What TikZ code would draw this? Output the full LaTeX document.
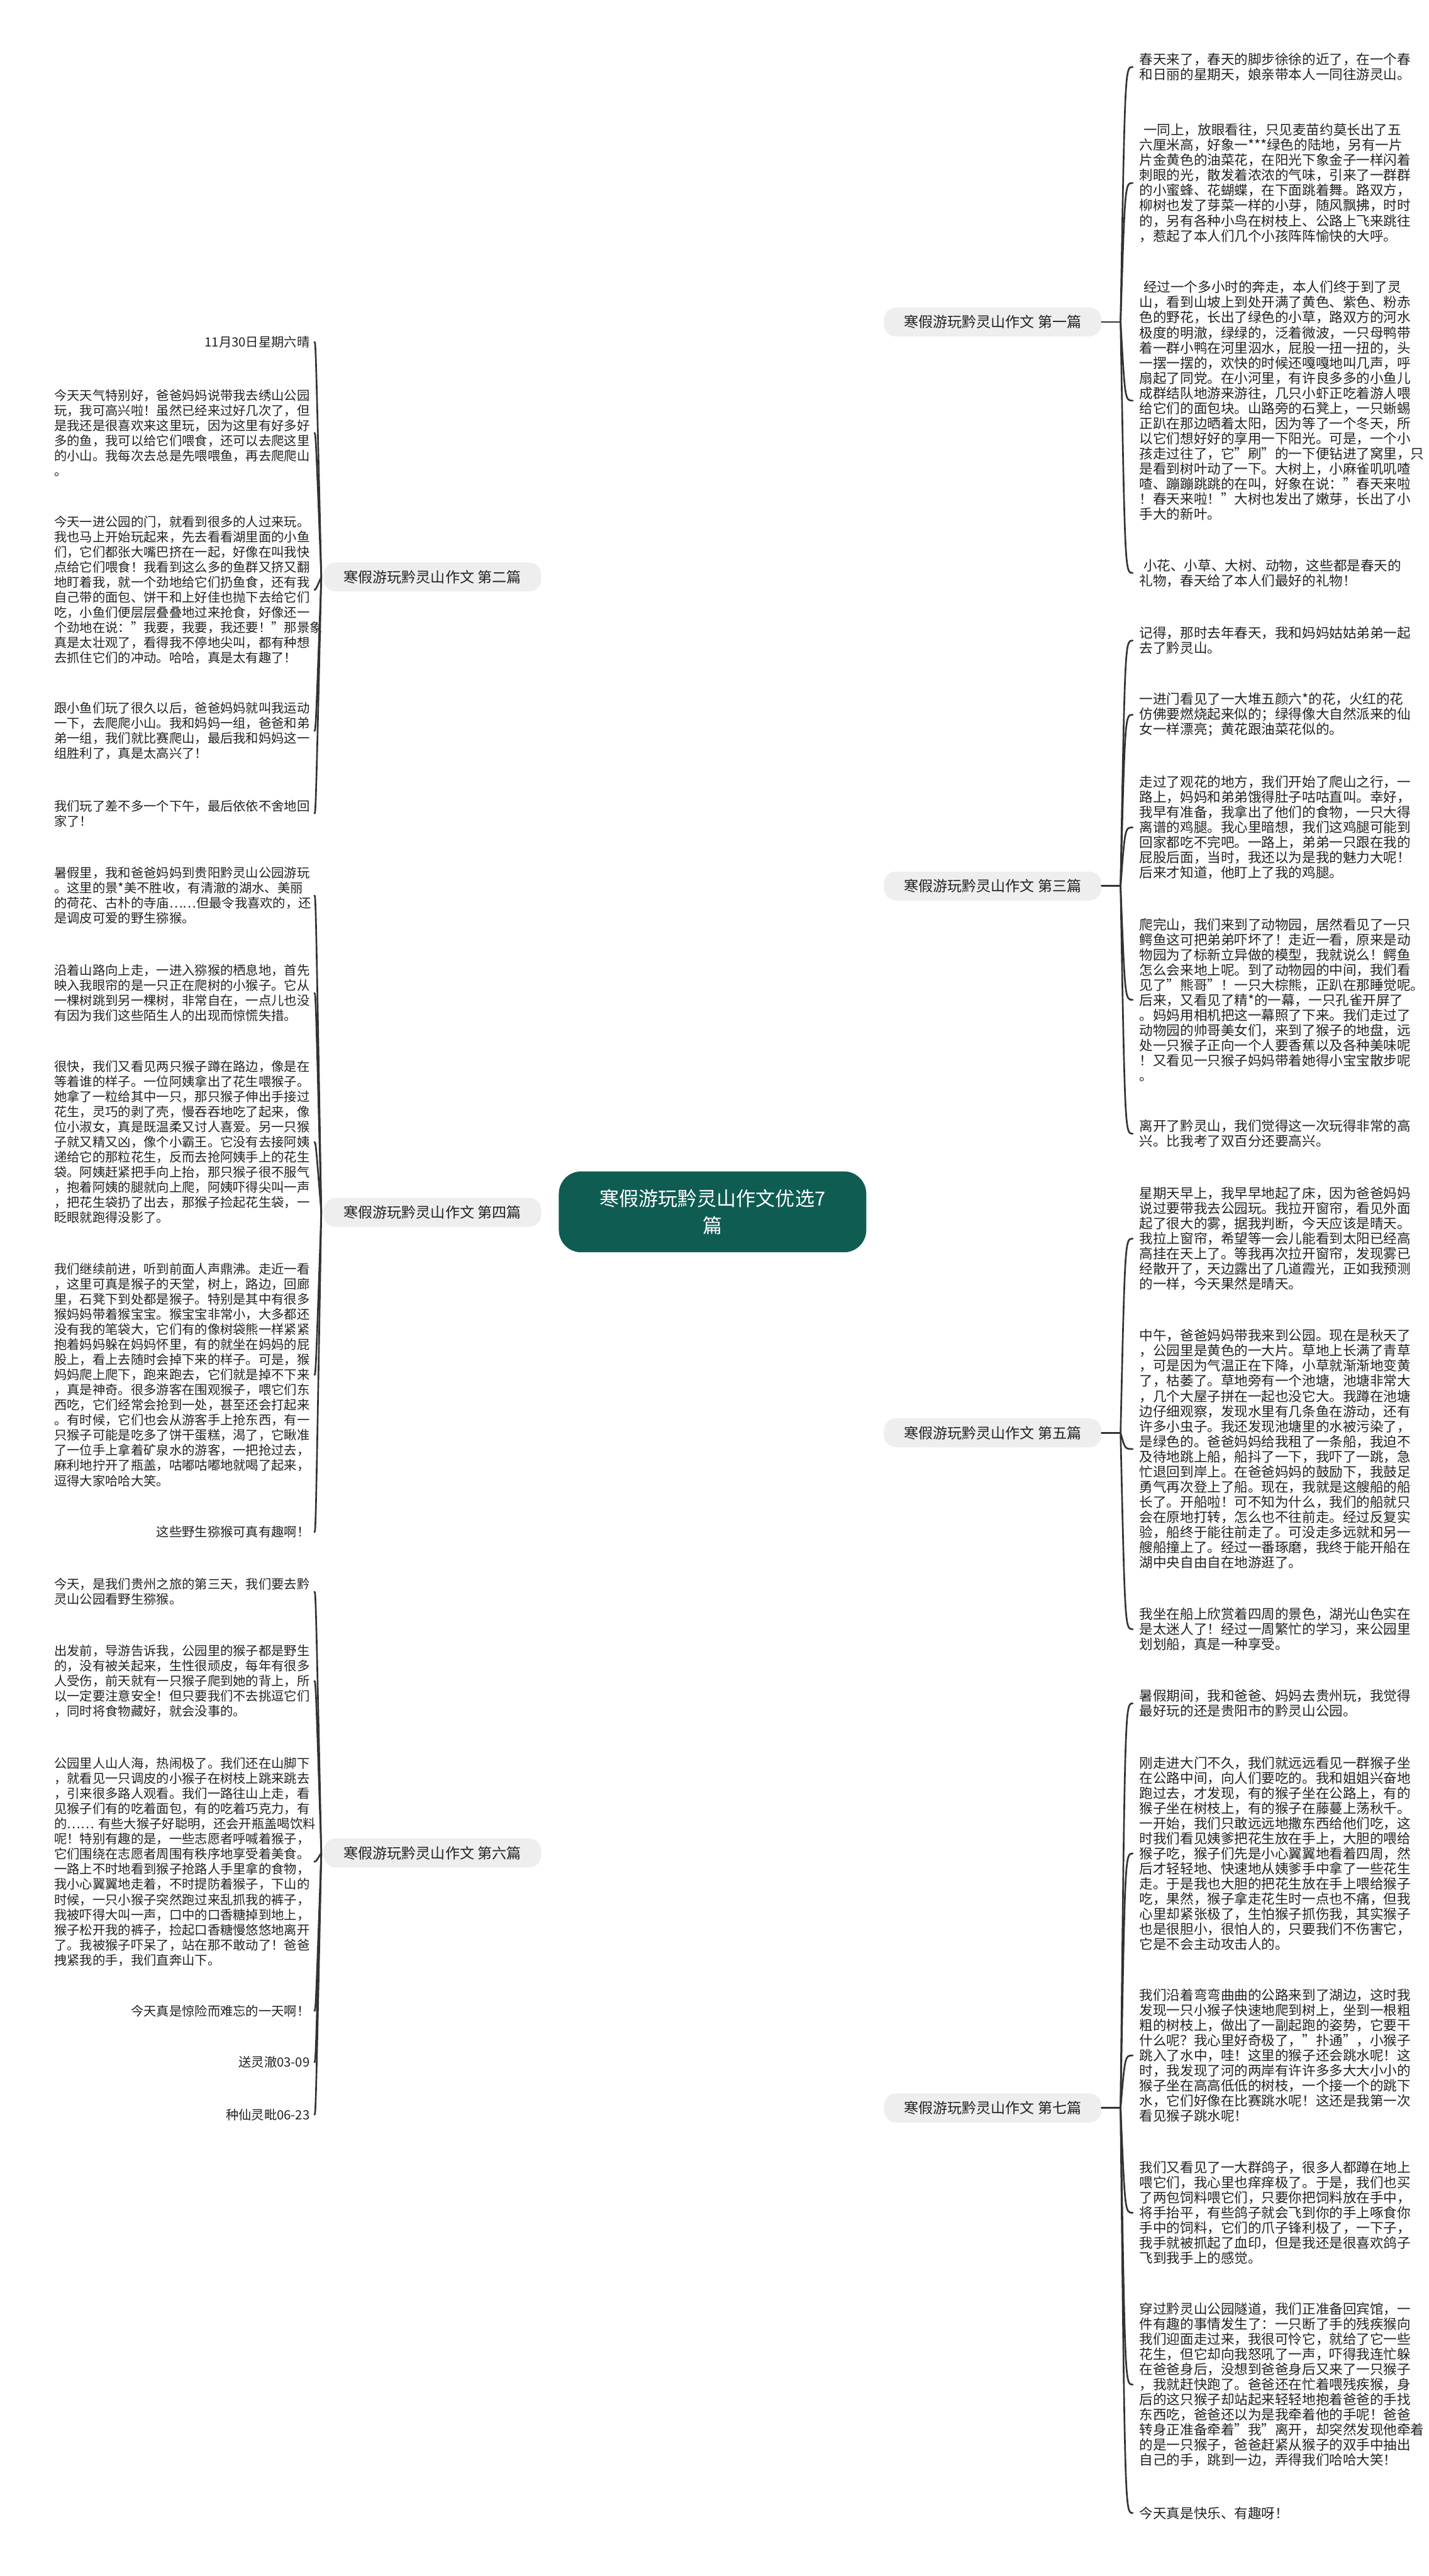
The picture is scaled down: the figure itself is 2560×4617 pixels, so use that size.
\documentclass[tikz,border=0pt]{standalone}
\usepackage{fontspec}
\setmainfont{Noto Sans CJK SC}
\usetikzlibrary{backgrounds}
\definecolor{cnfill}{HTML}{0F5C52}
\definecolor{brfill}{HTML}{EEEEEE}
\definecolor{lnc}{HTML}{333333}
\definecolor{txt}{HTML}{222222}
\tikzset{
  centerbox/.style={fill=cnfill, text=white, rounded corners=40pt, minimum width=551pt, minimum height=145pt, align=center, inner sep=0pt, font=\fontsize{35}{48}\selectfont},
  branchbox/.style={fill=brfill, text=txt, rounded corners=22pt, minimum width=390pt, minimum height=52pt, inner sep=0pt, font=\fontsize{26}{30}\selectfont},
  rleaf/.style={anchor=west, align=left, inner sep=0pt, text=txt, font=\fontsize{24.3}{27.1}\selectfont},
  lleaf/.style={anchor=west, align=left, text width=458pt, inner sep=0pt, text=txt, font=\fontsize{22.9}{27.1}\selectfont},
  lleafr/.style={lleaf, align=right},
  conn/.style={draw=lnc, line width=3pt, line cap=round},
}
\newcommand{\ind}{\hspace*{0.3em}}
\begin{document}
\begin{tikzpicture}[x=1pt,y=-1pt]
\useasboundingbox[fill=white] (0,0) rectangle (2560,4617);

% center
\node[centerbox] (cn) at (1277,2172) {寒假游玩黔灵山作文优选7\\篇};

% branches
\node[branchbox] (b1) at (1779,577) {寒假游玩黔灵山作文 第一篇};
\node[branchbox] (b3) at (1779,1588) {寒假游玩黔灵山作文 第三篇};
\node[branchbox] (b5) at (1779,2568) {寒假游玩黔灵山作文 第五篇};
\node[branchbox] (b7) at (1779,3778) {寒假游玩黔灵山作文 第七篇};
\node[branchbox] (b2) at (775,1034) {寒假游玩黔灵山作文 第二篇};
\node[branchbox] (b4) at (775,2173) {寒假游玩黔灵山作文 第四篇};
\node[branchbox] (b6) at (775,3321) {寒假游玩黔灵山作文 第六篇};

% right leaves
\def\rx{2042}
\node[rleaf] (r1a) at (\rx,120) {春天来了，春天的脚步徐徐的近了，在一个春\\和日丽的星期天，娘亲带本人一同往游灵山。};
\node[rleaf] (r1b) at (\rx,328) {\ind 一同上，放眼看往，只见麦苗约莫长出了五\\六厘米高，好象一***绿色的陆地，另有一片\\片金黄色的油菜花，在阳光下象金子一样闪着\\刺眼的光，散发着浓浓的气味，引来了一群群\\的小蜜蜂、花蝴蝶，在下面跳着舞。路双方，\\柳树也发了芽菜一样的小芽，随风飘拂，时时\\的，另有各种小鸟在树枝上、公路上飞来跳往\\，惹起了本人们几个小孩阵阵愉快的大呼。};
\node[rleaf] (r1c) at (\rx,718) {\ind 经过一个多小时的奔走，本人们终于到了灵\\山，看到山坡上到处开满了黄色、紫色、粉赤\\色的野花，长出了绿色的小草，路双方的河水\\极度的明澈，绿绿的，泛着微波，一只母鸭带\\着一群小鸭在河里泅水，屁股一扭一扭的，头\\一摆一摆的，欢快的时候还嘎嘎地叫几声，呼\\扇起了同党。在小河里，有许良多多的小鱼儿\\成群结队地游来游往，几只小虾正吃着游人喂\\给它们的面包块。山路旁的石凳上，一只蜥蜴\\正趴在那边晒着太阳，因为等了一个冬天，所\\以它们想好好的享用一下阳光。可是，一个小\\孩走过往了，它"刷"的一下便钻进了窝里，只\\是看到树叶动了一下。大树上，小麻雀叽叽喳\\喳、蹦蹦跳跳的在叫，好象在说："春天来啦\\！春天来啦！"大树也发出了嫩芽，长出了小\\手大的新叶。};
\node[rleaf] (r1d) at (\rx,1027) {\ind 小花、小草、大树、动物，这些都是春天的\\礼物，春天给了本人们最好的礼物！};

\node[rleaf] (r3a) at (\rx,1148) {记得，那时去年春天，我和妈妈姑姑弟弟一起\\去了黔灵山。};
\node[rleaf] (r3b) at (\rx,1281) {一进门看见了一大堆五颜六*的花，火红的花\\仿佛要燃烧起来似的；绿得像大自然派来的仙\\女一样漂亮；黄花跟油菜花似的。};
\node[rleaf] (r3c) at (\rx,1483) {走过了观花的地方，我们开始了爬山之行，一\\路上，妈妈和弟弟饿得肚子咕咕直叫。幸好，\\我早有准备，我拿出了他们的食物，一只大得\\离谱的鸡腿。我心里暗想，我们这鸡腿可能到\\回家都吃不完吧。一路上，弟弟一只跟在我的\\屁股后面，当时，我还以为是我的魅力大呢！\\后来才知道，他盯上了我的鸡腿。};
\node[rleaf] (r3d) at (\rx,1792) {爬完山，我们来到了动物园，居然看见了一只\\鳄鱼这可把弟弟吓坏了！走近一看，原来是动\\物园为了标新立异做的模型，我就说么！鳄鱼\\怎么会来地上呢。到了动物园的中间，我们看\\见了"熊哥"！一只大棕熊，正趴在那睡觉呢。\\后来，又看见了精*的一幕，一只孔雀开屏了\\。妈妈用相机把这一幕照了下来。我们走过了\\动物园的帅哥美女们，来到了猴子的地盘，远\\处一只猴子正向一个人要香蕉以及各种美味呢\\！又看见一只猴子妈妈带着她得小宝宝散步呢\\。};
\node[rleaf] (r3e) at (\rx,2032) {离开了黔灵山，我们觉得这一次玩得非常的高\\兴。比我考了双百分还要高兴。};

\node[rleaf] (r5a) at (\rx,2220) {星期天早上，我早早地起了床，因为爸爸妈妈\\说过要带我去公园玩。我拉开窗帘，看见外面\\起了很大的雾，据我判断，今天应该是晴天。\\我拉上窗帘，希望等一会儿能看到太阳已经高\\高挂在天上了。等我再次拉开窗帘，发现雾已\\经散开了，天边露出了几道霞光，正如我预测\\的一样，今天果然是晴天。};
\node[rleaf] (r5b) at (\rx,2597) {中午，爸爸妈妈带我来到公园。现在是秋天了\\，公园里是黄色的一大片。草地上长满了青草\\，可是因为气温正在下降，小草就渐渐地变黄\\了，枯萎了。草地旁有一个池塘，池塘非常大\\，几个大屋子拼在一起也没它大。我蹲在池塘\\边仔细观察，发现水里有几条鱼在游动，还有\\许多小虫子。我还发现池塘里的水被污染了，\\是绿色的。爸爸妈妈给我租了一条船，我迫不\\及待地跳上船，船抖了一下，我吓了一跳，急\\忙退回到岸上。在爸爸妈妈的鼓励下，我鼓足\\勇气再次登上了船。现在，我就是这艘船的船\\长了。开船啦！可不知为什么，我们的船就只\\会在原地打转，怎么也不往前走。经过反复实\\验，船终于能往前走了。可没走多远就和另一\\艘船撞上了。经过一番琢磨，我终于能开船在\\湖中央自由自在地游逛了。};
\node[rleaf] (r5c) at (\rx,2920) {我坐在船上欣赏着四周的景色，湖光山色实在\\是太迷人了！经过一周繁忙的学习，来公园里\\划划船，真是一种享受。};

\node[rleaf] (r7a) at (\rx,3053) {暑假期间，我和爸爸、妈妈去贵州玩，我觉得\\最好玩的还是贵阳市的黔灵山公园。};
\node[rleaf] (r7b) at (\rx,3322) {刚走进大门不久，我们就远远看见一群猴子坐\\在公路中间，向人们要吃的。我和姐姐兴奋地\\跑过去，才发现，有的猴子坐在公路上，有的\\猴子坐在树枝上，有的猴子在藤蔓上荡秋千。\\一开始，我们只敢远远地撒东西给他们吃，这\\时我们看见姨爹把花生放在手上，大胆的喂给\\猴子吃，猴子们先是小心翼翼地看着四周，然\\后才轻轻地、快速地从姨爹手中拿了一些花生\\走。于是我也大胆的把花生放在手上喂给猴子\\吃，果然，猴子拿走花生时一点也不痛，但我\\心里却紧张极了，生怕猴子抓伤我，其实猴子\\也是很胆小，很怕人的，只要我们不伤害它，\\它是不会主动攻击人的。};
\node[rleaf] (r7c) at (\rx,3684) {我们沿着弯弯曲曲的公路来到了湖边，这时我\\发现一只小猴子快速地爬到树上，坐到一根粗\\粗的树枝上，做出了一副起跑的姿势，它要干\\什么呢？我心里好奇极了，"扑通"，小猴子\\跳入了水中，哇！这里的猴子还会跳水呢！这\\时，我发现了河的两岸有许许多多大大小小的\\猴子坐在高高低低的树枝，一个接一个的跳下\\水，它们好像在比赛跳水呢！这还是我第一次\\看见猴子跳水呢！};
\node[rleaf] (r7d) at (\rx,3966) {我们又看见了一大群鸽子，很多人都蹲在地上\\喂它们，我心里也痒痒极了。于是，我们也买\\了两包饲料喂它们，只要你把饲料放在手中，\\将手抬平，有些鸽子就会飞到你的手上啄食你\\手中的饲料，它们的爪子锋利极了，一下子，\\我手就被抓起了血印，但是我还是很喜欢鸽子\\飞到我手上的感觉。};
\node[rleaf] (r7e) at (\rx,4274) {穿过黔灵山公园隧道，我们正准备回宾馆，一\\件有趣的事情发生了：一只断了手的残疾猴向\\我们迎面走过来，我很可怜它，就给了它一些\\花生，但它却向我怒吼了一声，吓得我连忙躲\\在爸爸身后，没想到爸爸身后又来了一只猴子\\，我就赶快跑了。爸爸还在忙着喂残疾猴，身\\后的这只猴子却站起来轻轻地抱着爸爸的手找\\东西吃，爸爸还以为是我牵着他的手呢！爸爸\\转身正准备牵着"我"离开，却突然发现他牵着\\的是一只猴子，爸爸赶紧从猴子的双手中抽出\\自己的手，跳到一边，弄得我们哈哈大笑！};
\node[rleaf] (r7f) at (\rx,4504) {今天真是快乐、有趣呀！};

% left leaves
\def\lx{97}
\node[lleafr] (l2a) at (\lx,613) {11月30日星期六晴};
\node[lleaf] (l2b) at (\lx,776) {今天天气特别好，爸爸妈妈说带我去绣山公园\\玩，我可高兴啦！虽然已经来过好几次了，但\\是我还是很喜欢来这里玩，因为这里有好多好\\多的鱼，我可以给它们喂食，还可以去爬这里\\的小山。我每次去总是先喂喂鱼，再去爬爬山\\。};
\node[lleaf] (l2c) at (\lx,1057) {今天一进公园的门，就看到很多的人过来玩。\\我也马上开始玩起来，先去看看湖里面的小鱼\\们，它们都张大嘴巴挤在一起，好像在叫我快\\点给它们喂食！我看到这么多的鱼群又挤又翻\\地盯着我，就一个劲地给它们扔鱼食，还有我\\自己带的面包、饼干和上好佳也抛下去给它们\\吃，小鱼们便层层叠叠地过来抢食，好像还一\\个劲地在说："我要，我要，我还要！"那景象\\真是太壮观了，看得我不停地尖叫，都有种想\\去抓住它们的冲动。哈哈，真是太有趣了！};
\node[lleaf] (l2d) at (\lx,1310) {跟小鱼们玩了很久以后，爸爸妈妈就叫我运动\\一下，去爬爬小山。我和妈妈一组，爸爸和弟\\弟一组，我们就比赛爬山，最后我和妈妈这一\\组胜利了，真是太高兴了！};
\node[lleaf] (l2e) at (\lx,1458) {我们玩了差不多一个下午，最后依依不舍地回\\家了！};

\node[lleaf] (l4a) at (\lx,1605) {暑假里，我和爸爸妈妈到贵阳黔灵山公园游玩\\。这里的景*美不胜收，有清澈的湖水、美丽\\的荷花、古朴的寺庙……但最令我喜欢的，还\\是调皮可爱的野生猕猴。};
\node[lleaf] (l4b) at (\lx,1780) {沿着山路向上走，一进入猕猴的栖息地，首先\\映入我眼帘的是一只正在爬树的小猴子。它从\\一棵树跳到另一棵树，非常自在，一点儿也没\\有因为我们这些陌生人的出现而惊慌失措。};
\node[lleaf] (l4c) at (\lx,2047) {很快，我们又看见两只猴子蹲在路边，像是在\\等着谁的样子。一位阿姨拿出了花生喂猴子。\\她拿了一粒给其中一只，那只猴子伸出手接过\\花生，灵巧的剥了壳，慢吞吞地吃了起来，像\\位小淑女，真是既温柔又讨人喜爱。另一只猴\\子就又精又凶，像个小霸王。它没有去接阿姨\\递给它的那粒花生，反而去抢阿姨手上的花生\\袋。阿姨赶紧把手向上抬，那只猴子很不服气\\，抱着阿姨的腿就向上爬，阿姨吓得尖叫一声\\，把花生袋扔了出去，那猴子捡起花生袋，一\\眨眼就跑得没影了。};
\node[lleaf] (l4d) at (\lx,2464) {我们继续前进，听到前面人声鼎沸。走近一看\\，这里可真是猴子的天堂，树上，路边，回廊\\里，石凳下到处都是猴子。特别是其中有很多\\猴妈妈带着猴宝宝。猴宝宝非常小，大多都还\\没有我的笔袋大，它们有的像树袋熊一样紧紧\\抱着妈妈躲在妈妈怀里，有的就坐在妈妈的屁\\股上，看上去随时会掉下来的样子。可是，猴\\妈妈爬上爬下，跑来跑去，它们就是掉不下来\\，真是神奇。很多游客在围观猴子，喂它们东\\西吃，它们经常会抢到一处，甚至还会打起来\\。有时候，它们也会从游客手上抢东西，有一\\只猴子可能是吃多了饼干蛋糕，渴了，它瞅准\\了一位手上拿着矿泉水的游客，一把抢过去，\\麻利地拧开了瓶盖，咕嘟咕嘟地就喝了起来，\\逗得大家哈哈大笑。};
\node[lleafr] (l4e) at (\lx,2746) {这些野生猕猴可真有趣啊！};

\node[lleaf] (l6a) at (\lx,2853) {今天，是我们贵州之旅的第三天，我们要去黔\\灵山公园看野生猕猴。};
\node[lleaf] (l6b) at (\lx,3013) {出发前，导游告诉我，公园里的猴子都是野生\\的，没有被关起来，生性很顽皮，每年有很多\\人受伤，前天就有一只猴子爬到她的背上，所\\以一定要注意安全！但只要我们不去挑逗它们\\，同时将食物藏好，就会没事的。};
\node[lleaf] (l6c) at (\lx,3337) {公园里人山人海，热闹极了。我们还在山脚下\\，就看见一只调皮的小猴子在树枝上跳来跳去\\，引来很多路人观看。我们一路往山上走，看\\见猴子们有的吃着面包，有的吃着巧克力，有\\的……~有些大猴子好聪明，还会开瓶盖喝饮料\\呢！特别有趣的是，一些志愿者呼喊着猴子，\\它们围绕在志愿者周围有秩序地享受着美食。\\一路上不时地看到猴子抢路人手里拿的食物，\\我小心翼翼地走着，不时提防着猴子，下山的\\时候，一只小猴子突然跑过来乱抓我的裤子，\\我被吓得大叫一声，口中的口香糖掉到地上，\\猴子松开我的裤子，捡起口香糖慢悠悠地离开\\了。我被猴子吓呆了，站在那不敢动了！爸爸\\拽紧我的手，我们直奔山下。};
\node[lleafr] (l6d) at (\lx,3604) {今天真是惊险而难忘的一天啊！};
\node[lleafr] (l6e) at (\lx,3696) {送灵澈03-09};
\node[lleafr] (l6f) at (\lx,3790) {种仙灵毗06-23};

\begin{scope}[on background layer]
% center to branches
\draw[conn] (1500,2172) .. controls (1525,577) and (1545,577) .. (b1.west);
\draw[conn] (1500,2172) .. controls (1525,1588) and (1545,1588) .. (b3.west);
\draw[conn] (1500,2172) .. controls (1525,2568) and (1545,2568) .. (b5.west);
\draw[conn] (1500,2172) .. controls (1525,3778) and (1545,3778) .. (b7.west);
\draw[conn] (1055,2172) .. controls (1030,1034) and (1010,1034) .. (b2.east);
\draw[conn] (cn.west) -- (b4.east);
\draw[conn] (1055,2172) .. controls (1030,3321) and (1010,3321) .. (b6.east);
\end{scope}

% right braces
\foreach \b/\leaves in {b1/{r1a,r1b,r1c,r1d}, b3/{r3a,r3b,r3c,r3d,r3e}, b5/{r5a,r5b,r5c}, b7/{r7a,r7b,r7c,r7d,r7e,r7f}}{
  \draw[conn] (\b.east) -- ++(34,0) coordinate (j);
  \coordinate (t) at ([xshift=8pt]j);
  \foreach \l in \leaves {
    \draw[conn] (j) .. controls (t |- \l.west) .. ([xshift=-12pt]\l.west);
  }
}
% left braces
\foreach \b/\leaves in {b2/{l2a,l2b,l2c,l2d,l2e}, b4/{l4a,l4b,l4c,l4d,l4e}, b6/{l6a,l6b,l6c,l6d,l6e,l6f}}{
  \coordinate (j) at ([xshift=-4pt]\b.west);
  \coordinate (t) at ([xshift=-10pt]j);
  \foreach \l in \leaves {
    \draw[conn] (j) .. controls (t |- \l.east) .. ([xshift=8pt]\l.east);
  }
}
\end{tikzpicture}
\end{document}
